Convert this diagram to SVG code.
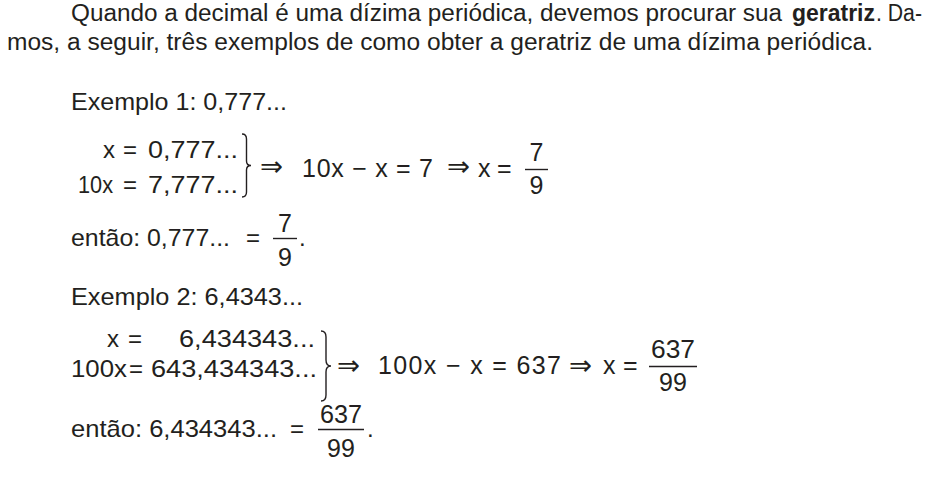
<svg xmlns="http://www.w3.org/2000/svg" width="935" height="493" viewBox="0 0 935 493">
<style>
text{font-family:"Liberation Sans",Arial,"DejaVu Sans",sans-serif;fill:#231f20}
.p{font-size:23px}
.b{font-weight:bold}
.m{font-size:24px}
.c{font-size:25px}
.ar{font-family:"DejaVu Sans","Liberation Sans",sans-serif;font-size:28px}
.mid{text-anchor:middle}
.br{fill:none;stroke:#231f20;stroke-width:1.4}
.bar{stroke:#231f20;stroke-width:1.4}
</style>
<rect width="935" height="493" fill="#ffffff"/>
<g id="paragraph">
<text class="p" x="71" y="21" textLength="711" lengthAdjust="spacingAndGlyphs">Quando a decimal é uma dízima periódica, devemos procurar sua</text>
<text class="p b" x="792" y="21" textLength="83" lengthAdjust="spacingAndGlyphs">geratriz</text>
<text class="p" x="876" y="21" textLength="46" lengthAdjust="spacingAndGlyphs">. Da-</text>
<text class="p" x="7" y="50" textLength="866" lengthAdjust="spacingAndGlyphs">mos, a seguir, três exemplos de como obter a geratriz de uma dízima periódica.</text>
</g>
<g id="exemplo1">
<text class="m" x="71" y="110" textLength="216" lengthAdjust="spacingAndGlyphs">Exemplo 1: 0,777...</text>
<text class="m" x="103" y="158">x</text>
<text class="m" x="123" y="158">=</text>
<text class="m" x="148" y="158" textLength="90" lengthAdjust="spacingAndGlyphs">0,777...</text>
<text class="m" x="78" y="193" textLength="35" lengthAdjust="spacingAndGlyphs">10x</text>
<text class="m" x="123" y="193">=</text>
<text class="m" x="148" y="193" textLength="90" lengthAdjust="spacingAndGlyphs">7,777...</text>
<path class="br" d="M242,134 Q246.5,134 246.5,139 L246.5,161 Q246.5,165.5 251,165.5 Q246.5,165.5 246.5,170 L246.5,192 Q246.5,197 242,197"/>
<text class="ar" x="260" y="176" textLength="23" lengthAdjust="spacingAndGlyphs">⇒</text>
<text class="c" x="302" y="177" textLength="131" lengthAdjust="spacing">10x − x = 7</text>
<text class="ar" x="447" y="176" textLength="23" lengthAdjust="spacingAndGlyphs">⇒</text>
<text class="c" x="478" y="177">x</text>
<text class="c" x="497" y="177">=</text>
<line class="bar" x1="525" y1="169.5" x2="548" y2="169.5"/>
<text class="c mid" x="536.5" y="161">7</text>
<text class="c mid" x="536.5" y="194">9</text>
<text class="m" x="71" y="246" textLength="159" lengthAdjust="spacingAndGlyphs">então: 0,777...</text>
<text class="m" x="246" y="246">=</text>
<line class="bar" x1="273" y1="238.5" x2="297" y2="238.5"/>
<text class="c mid" x="285" y="232">7</text>
<text class="c mid" x="285" y="266">9</text>
<text class="m" x="299" y="246">.</text>
</g>
<g id="exemplo2">
<text class="m" x="71" y="305" textLength="232" lengthAdjust="spacingAndGlyphs">Exemplo 2: 6,4343...</text>
<text class="m" x="107" y="347">x</text>
<text class="m" x="128" y="347">=</text>
<text class="m" x="179" y="347" textLength="136" lengthAdjust="spacingAndGlyphs">6,434343...</text>
<text class="m" x="71" y="377" textLength="56" lengthAdjust="spacingAndGlyphs">100x</text>
<text class="m" x="129" y="377">=</text>
<text class="m" x="151" y="377" textLength="166" lengthAdjust="spacingAndGlyphs">643,434343...</text>
<path class="br" d="M321,331 Q326,331 326,337 L326,360 Q326,366 331,366 Q326,366 326,372 L326,395 Q326,401 321,401"/>
<text class="ar" x="337" y="375" textLength="23" lengthAdjust="spacingAndGlyphs">⇒</text>
<text class="c" x="378" y="374" textLength="183" lengthAdjust="spacing">100x − x = 637</text>
<text class="ar" x="569" y="375" textLength="23" lengthAdjust="spacingAndGlyphs">⇒</text>
<text class="c" x="603" y="374">x</text>
<text class="c" x="623" y="374">=</text>
<line class="bar" x1="649" y1="366.5" x2="697" y2="366.5"/>
<text class="c mid" x="673" y="358" textLength="44" lengthAdjust="spacingAndGlyphs">637</text>
<text class="c mid" x="673" y="391">99</text>
<text class="m" x="71" y="437" textLength="206" lengthAdjust="spacingAndGlyphs">então: 6,434343...</text>
<text class="m" x="290" y="437">=</text>
<line class="bar" x1="318" y1="429.5" x2="364" y2="429.5"/>
<text class="c mid" x="341" y="423" textLength="42" lengthAdjust="spacingAndGlyphs">637</text>
<text class="c mid" x="341" y="457">99</text>
<text class="m" x="367" y="437">.</text>
</g>
</svg>
